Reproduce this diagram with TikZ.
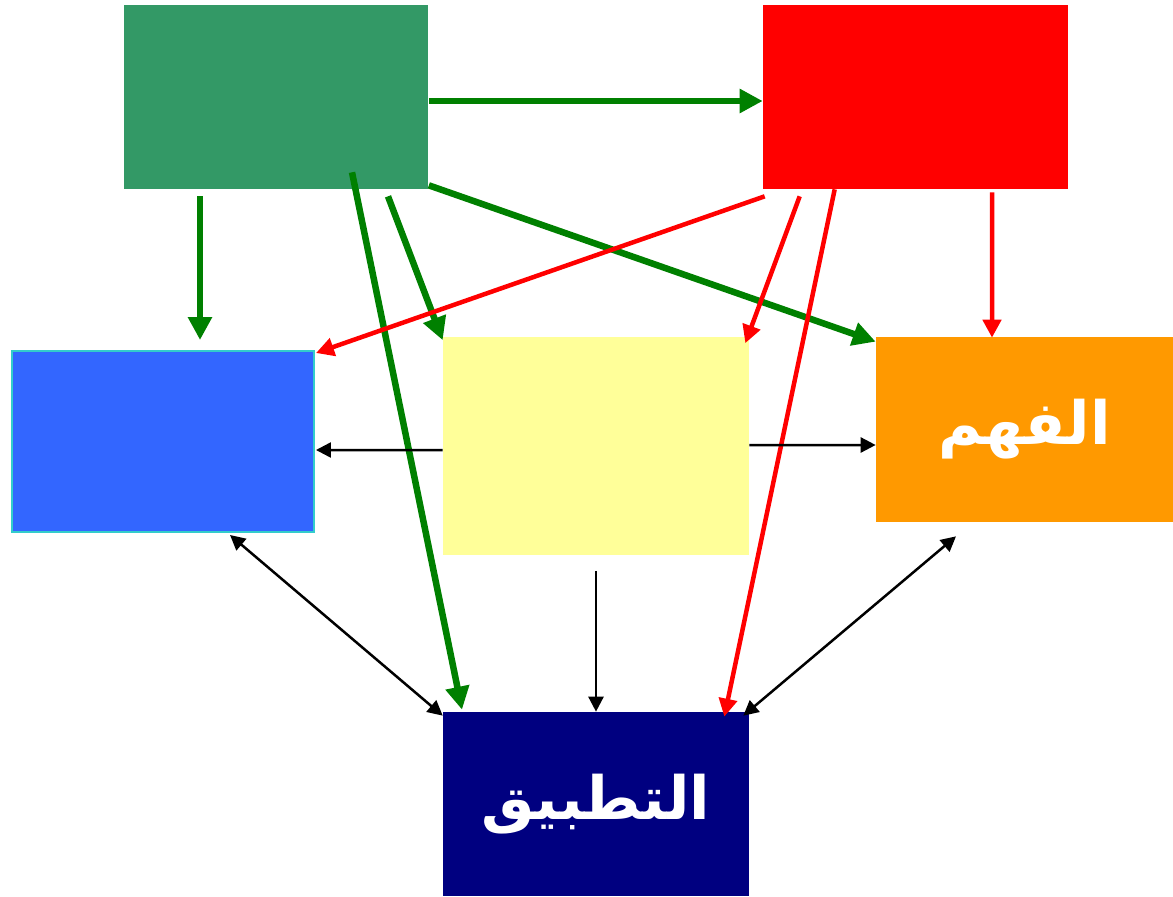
\documentclass[tikz,border=0pt]{standalone}
\usepackage{fontspec}
\newfontfamily\arabicfont[Script=Arabic]{DejaVu Sans}
\TeXXeTstate=1
\usetikzlibrary{arrows.meta,calc}

\definecolor{boxgreen}{HTML}{339966}
\definecolor{boxred}{HTML}{FF0000}
\definecolor{boxblue}{HTML}{3366FF}
\definecolor{boxcyan}{HTML}{33CCCC}
\definecolor{boxyellow}{HTML}{FFFF99}
\definecolor{boxorange}{HTML}{FF9900}
\definecolor{boxnavy}{HTML}{000080}
\definecolor{linkgreen}{HTML}{008000}

\begin{document}
\begin{tikzpicture}[
        x=0.02cm, y=-0.02cm,
        % Block styles
        block/.style={
            rectangle,
            inner sep=0pt,
            minimum width=6.1cm,
            minimum height=3.68cm,
            align=center,
            text=white,
            font=\arabicfont\bfseries\fontsize{34}{40}\selectfont,
            fill=#1
        },
        garrow/.style={-{Triangle[length=0.46cm,width=0.46cm]}, linkgreen, line width=0.13cm},
        rarrow/.style={-{Triangle[length=0.36cm,width=0.36cm]}, boxred, line width=0.09cm},
        karrow/.style={-{Triangle[length=0.3cm,width=0.3cm]}, black, line width=0.05cm},
        kdarrow/.style={{Triangle[length=0.3cm,width=0.3cm]}-{Triangle[length=0.3cm,width=0.3cm]}, black, line width=0.05cm}
    ]
    \useasboundingbox (0,0) rectangle (1173,896);

    % Top row
    \node[block=boxgreen] (top1) at (276,97) {};
    \node[block=boxred, minimum width=6.1cm] (top2) at (915.5,97) {};

    % Middle row
    \node[block=boxblue, draw=boxcyan, line width=0.04cm, minimum width=6.04cm, minimum height=3.62cm] (left) at (163,441.5) {};
    \node[block=boxyellow, minimum width=6.12cm, minimum height=4.38cm] (mid) at (596,446) {};
    \node[block=boxorange, minimum width=5.94cm, minimum height=3.7cm] (fahm) at (1024.5,429.5) {\beginR الفهم\endR};

    % Bottom
    \node[block=boxnavy, minimum width=6.12cm] (tatbiq) at (596,804) {\beginR التطبيق\endR};

    % Green links
    \draw[garrow] ($(top1.east)+(0,4)$) -- ($(top2.west)+(0,4)$);
    \draw[garrow] ($(top1.south)+(-76,7)$) -- ($(left.north)+(37,-10)$);
    \draw[garrow] ($(top1.south)+(76,-17)$) -- ($(tatbiq.north)+(-134,-2)$);
    \draw[garrow] ($(top1.south)+(112,7)$) -- ($(mid.north west)+(0,4)$);
    \draw[garrow] ($(top1.south east)+(0,-4)$) -- ($(fahm.north west)+(0,5)$);

    % Red links
    \draw[rarrow] ($(top2.south west)+(2,7)$) -- ($(left.north east)+(1,3)$);
    \draw[rarrow] ($(top2.south west)+(37,7)$) -- ($(mid.north east)+(-4,7)$);
    \draw[rarrow] ($(top2.south west)+(72,0)$) -- ($(tatbiq.north east)+(-25,5)$);
    \draw[rarrow] ($(top2.south)+(76.5,3)$) -- ($(fahm.north)+(-32.5,1)$);

    % Black links
    \draw[karrow] ($(mid.west)+(0,4)$) -- ($(left.east)+(1,8.5)$);
    \draw[karrow] ($(mid.east)+(0,-1)$) -- ($(fahm.west)+(0,15.5)$);
    \draw[karrow] ($(mid.south)+(0,15)$) -- (tatbiq.north);
    \draw[kdarrow] ($(left.south)+(67,2)$) -- ($(tatbiq.north west)+(0,4)$);
    \draw[kdarrow] ($(fahm.south)+(-68.5,14)$) -- ($(tatbiq.north east)+(-6,4)$);

\end{tikzpicture}
\end{document}
